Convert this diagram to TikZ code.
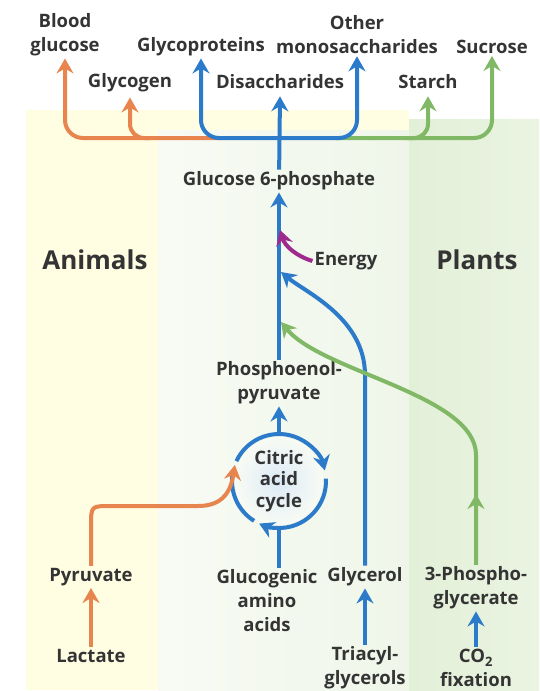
\documentclass[tikz,border=0pt]{standalone}
\usepackage{fontspec}
\setmainfont{Open Sans}
\usetikzlibrary{arrows.meta, positioning, calc}
\definecolor{txtgray}{HTML}{343434}
\definecolor{orangeway}{HTML}{E8844E}
\definecolor{blueway}{HTML}{2B7BCA}
\definecolor{greenway}{HTML}{80B866}
\definecolor{energycol}{HTML}{9E2A8E}
\definecolor{animalbg}{HTML}{FFFDE2}
\definecolor{plantbg}{HTML}{E3F0D8}
\definecolor{midbgl}{HTML}{F8FBF4}
\definecolor{midbgr}{HTML}{EFF6E9}
\definecolor{cyclebg}{HTML}{DCEAF7}
\tikzset{
	lbl/.style={font=\fontsize{18.5}{24}\selectfont\bfseries, text=txtgray, align=center, inner sep=2pt},
	biglbl/.style={font=\fontsize{26}{30}\selectfont\bfseries, text=txtgray},
	route/.style={line width=4pt, draw=#1},
	routearr/.style={route=#1, -{Stealth[length=15pt, width=17pt, inset=5pt]}},
}

\begin{document}
\begin{tikzpicture}[x=1pt, y=-1pt]
	\useasboundingbox (0,0) rectangle (539,691);
	\fill[animalbg] (26,110) rectangle (409,690);
	\shade[left color=midbgl, right color=midbgr] (158,130) rectangle (409,690);
	\shade[left color=plantbg, right color=plantbg!75!white] (409,119) rectangle (539,690);

	\node[lbl] (blood) at (65,35) {Blood\\glucose};
	\node[lbl] (gp) at (201,47) {Glycoproteins};
	\node[lbl] (othermono) at (357,35) {Other\\monosaccharides};
	\node[lbl] (sucrose) at (492,47) {Sucrose};
	\node[lbl] (glycogen) at (130,83) {Glycogen};
	\node[lbl] (disacch) at (280,82) {Disaccharides};
	\node[lbl] (starch) at (428,82) {Starch};
	\node[lbl] (g6p) at (279,181) {Glucose 6-phosphate};
	\node[biglbl] (animals) at (95,260) {Animals};
	\node[biglbl] (plants) at (477,260) {Plants};
	\node[lbl] (energy) at (346,261) {Energy};
	\node[lbl] (pep) at (279,383) {Phosphoenol-\\pyruvate};

	\coordinate (cacc) at (279,481);
	\shade[inner color=cyclebg, outer color=midbgl] (cacc) circle[radius=44];
	\node[lbl, font=\fontsize{18.5}{21.5}\selectfont\bfseries] (cac) at (cacc) {Citric\\acid\\cycle};

	\node[lbl] (pyr) at (91,577) {Pyruvate};
	\node[lbl] (amino) at (267,601) {Glucogenic\\amino\\acids};
	\node[lbl] (glycerol) at (365,577) {Glycerol};
	\node[lbl] (phospho) at (476,588) {3-Phospho-\\glycerate};
	\node[lbl] (lactate) at (91,656) {Lactate};
	\node[lbl] (triacyl) at (365,668) {Triacyl-\\glycerols};
	\node[lbl] (co2) at (476,668) {CO\textsubscript{2}\\fixation};

	\coordinate (hub) at (279,138);
	\draw[routearr=orangeway, rounded corners=18pt] (221,138) -| (blood.south);
	\draw[routearr=orangeway, rounded corners=14pt] (150,138) -| ([yshift=-3pt]glycogen.south);
	\draw[routearr=greenway, rounded corners=18pt] (336,138) -| (sucrose.south);
	\draw[routearr=greenway, rounded corners=14pt] (405,138) -| ([yshift=-5pt]starch.south);
	\draw[routearr=blueway, rounded corners=18pt] (hub) -| (gp.south);
	\draw[routearr=blueway, rounded corners=18pt] (hub) -| (othermono.south);
	\draw[routearr=blueway] (g6p) -- ([yshift=-5pt]disacch.south);

	\draw[routearr=blueway] (pep) -- (g6p);
	\coordinate (ejoin) at (280,230);
	\draw[routearr=energycol] (energy.west) .. controls (296,256) and (285,246) .. (ejoin);
	\coordinate (gjoin) at (281,272);
	\draw[routearr=blueway] (glycerol.north) -- (365,375) .. controls (365,318) and (305,292) .. (gjoin);
	\coordinate (pjoin) at (281,322);
	\coordinate (pmid) at (476,494);
	\draw[routearr=greenway] (phospho.north) -- (476,455) .. controls (476,395) and (322,372) .. (pjoin);
	\draw[routearr=greenway] (phospho.north) -- (pmid);

	\path (cacc) ++(0,-47) coordinate (cactop) (cacc) ++(0,47) coordinate (cacbot) (cacc) ++(-160:47) coordinate (cacl);
	\draw[routearr=blueway] (cacc) ++(-155:47) arc[start angle=-155, end angle=-13, radius=47];
	\draw[routearr=blueway] (cacc) ++(-3:47) arc[start angle=-3, end angle=115, radius=47];
	\draw[route=blueway] (cacc) ++(122:47) arc[start angle=122, end angle=192, radius=47];
	\draw[routearr=blueway] (cactop) -- (pep.south);
	\draw[route=blueway] (amino.north -| cacbot) -- (cacbot);
	\draw[routearr=orangeway] (pyr.north) -- (91,526) .. controls (91,506) .. (111,506) -- (198,506) .. controls (224,506) and (231,490) .. (cacl);

	\draw[routearr=orangeway] (lactate) -- (pyr);
	\draw[routearr=blueway] (triacyl) -- (glycerol);
	\draw[routearr=blueway] (co2) -- (phospho);
\end{tikzpicture}
\end{document}
